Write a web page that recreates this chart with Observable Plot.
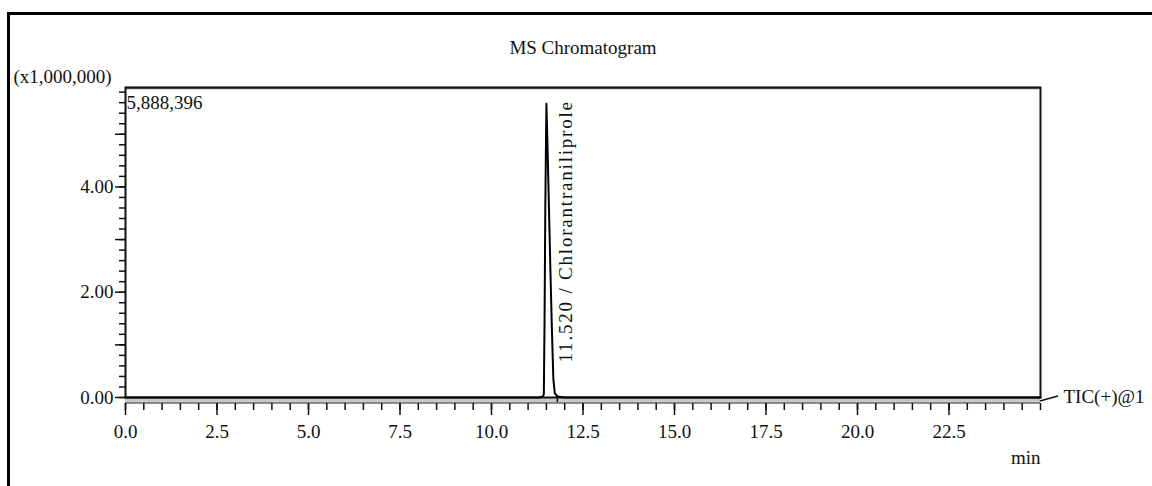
<!DOCTYPE html>
<html><head><meta charset="utf-8">
<script src="https://cdn.jsdelivr.net/npm/d3@7"></script>
<script src="https://cdn.jsdelivr.net/npm/@observablehq/plot@0.6"></script>
<style>
html,body{margin:0;padding:0;background:#fff;}
#wrap{position:relative;width:1152px;height:486px;overflow:hidden;}
#border{position:absolute;left:7px;top:12px;width:1160px;height:490px;border-left:3px solid #000;border-top:3px solid #000;pointer-events:none;}
svg{display:block;}
</style></head><body><div id="wrap"><div id="chart"></div><div id="border"></div></div>
<script>
// Chromatogram trace (retention time in min, intensity in x1,000,000)
const retentionTime = [0, 11.30, 11.40, 11.43, 11.45, 11.47, 11.50, 11.53, 11.57, 11.61, 11.65, 11.69, 11.73, 11.80, 12.00, 25.0];
const intensity     = [0, 0, 0.02, 0.06, 1.5, 3.6, 5.58, 4.8, 3.6, 2.4, 1.3, 0.35, 0.08, 0.02, 0, 0];
const xMajorTicks = [0, 2.5, 5, 7.5, 10, 12.5, 15, 17.5, 20, 22.5];
const xMinorStep = 0.5;
const yLabelTicks = [0, 2, 4];
const yMidTicks = [1, 3, 5];
const yMinorStep = 0.2;
const xMax = 25;
const yMax = 5.888396;
const peakTime = [11.52];
const peakName = ["Chlorantraniliprole"];
const peakEnd = [11.80];
const titleText = ["MS Chromatogram"];
const yUnitText = ["(x1,000,000)"];
const xUnitText = ["min"];
const traceName = ["TIC(+)@1"];

const font = "Liberation Serif, Times New Roman, serif";
const data = retentionTime.map((t, i) => ({t, v: intensity[i]}));
const xMinor = d3.range(0, xMax + 1e-9, xMinorStep);
const yMinor = d3.range(0, yMax, yMinorStep);
const txt = {fontSize: 19, fill: "#111", fontFamily: font, lineAnchor: "middle"};

const plot = Plot.plot({
  width: 1152, height: 486,
  marginLeft: 125, marginRight: 112, marginTop: 87, marginBottom: 89,
  style: {fontFamily: font, fontSize: "19px", color: "#111", background: "#fff"},
  x: {domain: [0, xMax]},
  y: {domain: [0, yMax]},
  marks: [
    Plot.ruleY([0], {dy: 2.5, stroke: "#c8c8c8", strokeWidth: 5}),
    Plot.ruleY([0], {dy: 5.5, stroke: "#222", strokeWidth: 1}),
    Plot.ruleY([yMax], {dy: 0.5, stroke: "#777", strokeWidth: 2.5}),
    Plot.frame({stroke: "#111", strokeWidth: 2}),
    Plot.axisX(xMajorTicks, {tickSize: 12, tickPadding: 9, dy: 6, tickFormat: d => d.toFixed(1), label: null, strokeWidth: 1.5, fontSize: 19, fontFamily: font}),
    Plot.axisX(xMinor, {tickSize: 7, dy: 6, tickFormat: () => "", label: null, strokeWidth: 1.5}),
    Plot.axisY(yLabelTicks, {tickSize: 10, tickPadding: 2, tickFormat: d => d.toFixed(2), label: null, strokeWidth: 1.5, fontSize: 19, fontFamily: font}),
    Plot.axisY(yMidTicks, {tickSize: 10, tickFormat: () => "", label: null, strokeWidth: 1.5}),
    Plot.axisY(yMinor, {tickSize: 6, tickFormat: () => "", label: null, strokeWidth: 1.5}),
    Plot.ruleX(peakEnd, {y1: 0, y2: 0.12, dy: 5, stroke: "#111", strokeWidth: 1.5}),
    Plot.line(data, {x: "t", y: "v", stroke: "#000", strokeWidth: 2}),
    Plot.text(peakTime, {...txt, x: d => d, y: 0, text: (d, i) => `${d.toFixed(3)} / ${peakName[i]}`, rotate: -90, textAnchor: "start", dx: 19, dy: -35}),
    Plot.text([yMax], {...txt, frameAnchor: "top-left", text: d => d3.format(",")(Math.round(d * 1e6)), textAnchor: "start", dx: 1, dy: 15}),
    Plot.text(yUnitText, {...txt, frameAnchor: "top-left", textAnchor: "start", dx: -112, dy: -11}),
    Plot.text(titleText, {...txt, frameAnchor: "top", dy: -40}),
    Plot.text(xUnitText, {...txt, frameAnchor: "bottom-right", textAnchor: "end", dy: 60}),
    Plot.text(traceName, {...txt, frameAnchor: "bottom-right", textAnchor: "start", dx: 23, dy: -1})
  ]
});
document.getElementById("chart").appendChild(plot);

// letter spacing for the peak label
d3.select(plot).selectAll("text").filter(function() { return this.textContent.includes(peakName[0]); })
  .style("letter-spacing", "1.8px");

// leader line from trace end to its name
const xs = plot.scale("x"), ys = plot.scale("y");
const xr = xs.apply(xMax), y0 = ys.apply(0);
d3.select(plot).append("line")
  .attr("x1", xr).attr("y1", y0 + 4).attr("x2", xr + 18).attr("y2", y0 - 1)
  .attr("stroke", "#111").attr("stroke-width", 1.5);
</script>
</body></html>
